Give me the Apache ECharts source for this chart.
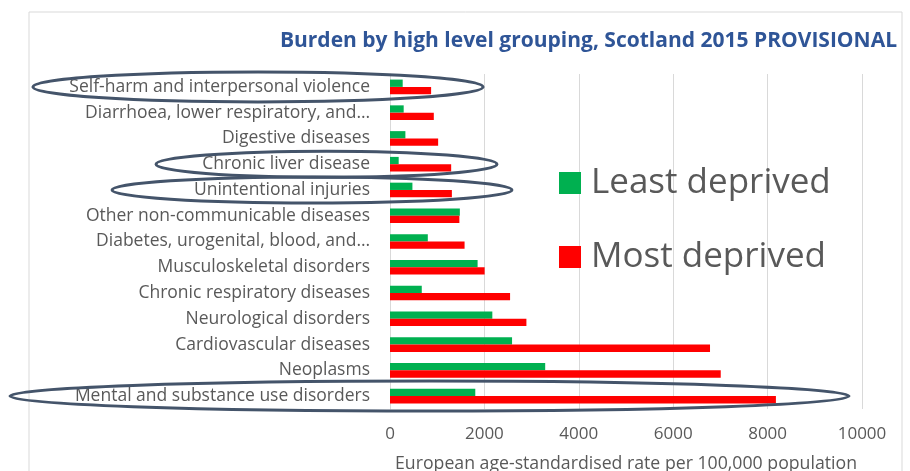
<!DOCTYPE html>
<html>
<head>
<meta charset="utf-8">
<script src="https://cdn.jsdelivr.net/npm/echarts@6/dist/echarts.min.js"></script>
<style>html,body{margin:0;padding:0;background:#fff}#c{width:910px;height:471px}</style>
</head>
<body>
<div id="c"></div>
<script>
const categories = [
  'Self-harm and interpersonal violence',
  'Diarrhoea, lower respiratory, and\u2026',
  'Digestive diseases',
  'Chronic liver disease',
  'Unintentional injuries',
  'Other non-communicable diseases',
  'Diabetes, urogenital, blood, and\u2026',
  'Musculoskeletal disorders',
  'Chronic respiratory diseases',
  'Neurological disorders',
  'Cardiovascular diseases',
  'Neoplasms',
  'Mental and substance use disorders'
];
const leastDeprived = [269, 290, 326, 184, 475, 1480, 801, 1856, 673, 2168, 2586, 3288, 1807];
const mostDeprived = [871, 928, 1020, 1296, 1311, 1470, 1580, 2005, 2544, 2890, 6780, 7007, 8176];
const xTicks = [0, 2000, 4000, 6000, 8000, 10000];
const highlighted = [
  {cat: 'Self-harm and interpersonal violence', left: 33, right: 483, ry: 15},
  {cat: 'Chronic liver disease', left: 156, right: 497, ry: 13},
  {cat: 'Unintentional injuries', left: 112, right: 512, ry: 13},
  {cat: 'Mental and substance use disorders', left: 10, right: 849, ry: 15}
];

const chart = echarts.init(document.getElementById('c'));
const FONT = 'Open Sans';
const option = {
  animation: false,
  title: {
    text: 'Burden by high level grouping, Scotland 2015 PROVISIONAL',
    right: 8, top: 26,
    textStyle: {fontFamily: FONT, fontWeight: 'bold', fontSize: 21, color: '#2F5597'}
  },
  legend: {
    data: ['Least deprived', 'Most deprived'],
    orient: 'vertical',
    left: 554, top: 158,
    itemWidth: 22, itemHeight: 22, itemGap: 34,
    icon: 'rect',
    textStyle: {fontFamily: FONT, fontSize: 35, color: '#595959', lineHeight: 40, padding: [0, 0, 0, 5]}
  },
  grid: {left: 390, right: 48, top: 74, bottom: 62, containLabel: false, outerBoundsMode: 'none'},
  xAxis: {
    type: 'value', min: xTicks[0], max: xTicks[xTicks.length - 1], interval: 2000,
    name: 'European age-standardised rate per 100,000 population',
    nameLocation: 'middle', nameGap: 46,
    nameTextStyle: {fontFamily: FONT, fontSize: 17.7, color: '#595959'},
    axisLabel: {fontFamily: FONT, fontSize: 17, color: '#595959', margin: 17,
                formatter: v => String(v)},
    axisLine: {show: false}, axisTick: {show: false},
    splitLine: {lineStyle: {color: '#D9D9D9', width: 1}}
  },
  yAxis: {
    type: 'category', data: categories, inverse: true,
    axisLabel: {fontFamily: FONT, fontSize: 17.5, color: '#595959', margin: 20},
    axisLine: {show: true, lineStyle: {color: '#D9D9D9'}}, axisTick: {show: false}
  },
  series: [
    {name: 'Least deprived', type: 'bar', data: leastDeprived, barWidth: 7.3, barGap: '0%',
     itemStyle: {color: '#00B050'}},
    {name: 'Most deprived', type: 'bar', data: mostDeprived, barWidth: 7.3, barGap: '0%',
     itemStyle: {color: '#FF0000'}}
  ],
  graphic: [{
    type: 'rect', shape: {x: 29, y: 12, width: 873, height: 480}, silent: true, z: -10,
    style: {fill: 'none', stroke: '#D9D9D9', lineWidth: 1}
  }]
};
chart.setOption(option);

const ellipses = highlighted.map(h => {
  const cy = chart.convertToPixel({yAxisIndex: 0}, h.cat);
  return {
    type: 'ellipse', z: 100, silent: true,
    shape: {cx: (h.left + h.right) / 2, cy: cy, rx: (h.right - h.left) / 2, ry: h.ry},
    style: {fill: 'none', stroke: '#44546A', lineWidth: 3}
  };
});
chart.setOption({graphic: option.graphic.concat(ellipses)});
</script>
</body>
</html>
